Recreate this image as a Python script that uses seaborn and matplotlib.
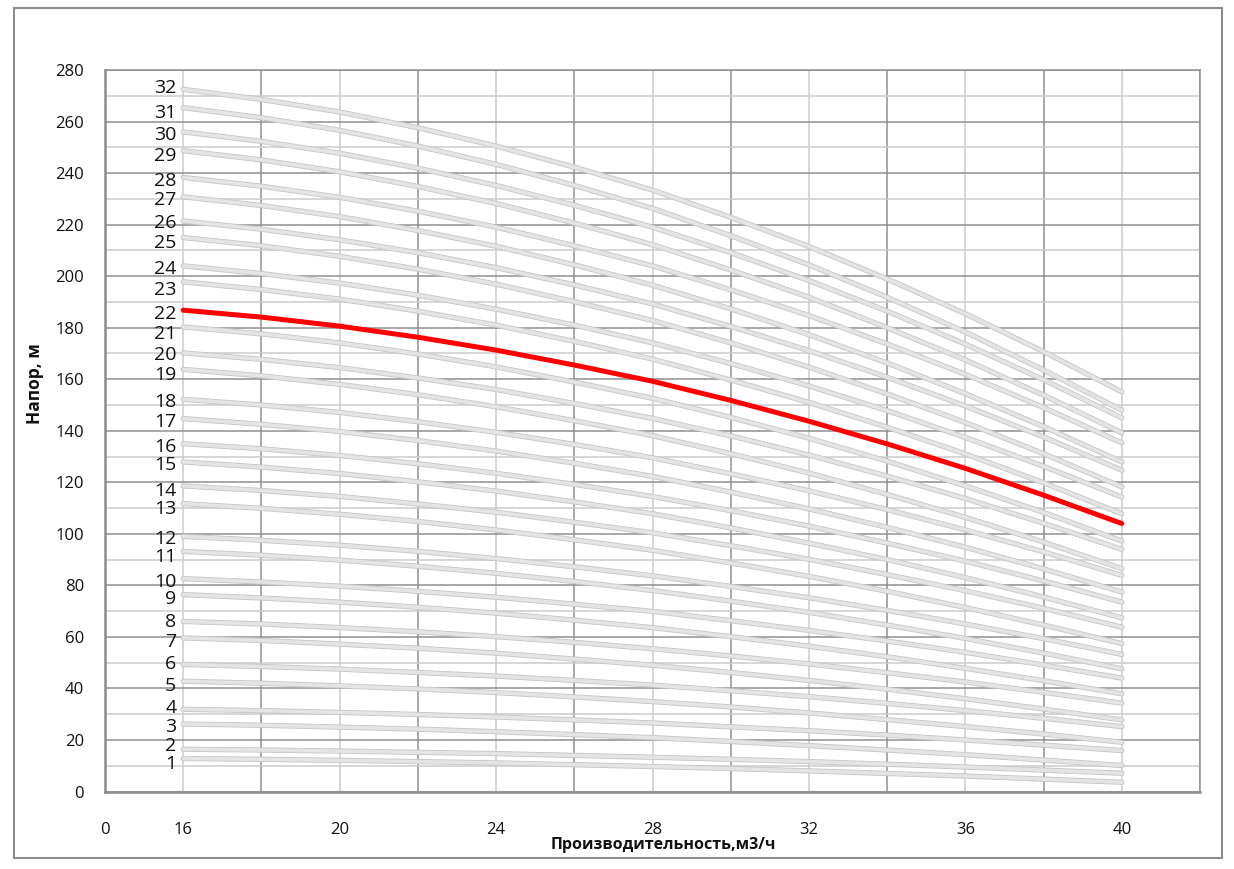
import pandas as pd
import matplotlib
matplotlib.use("Agg")
import matplotlib.pyplot as plt
import matplotlib.patheffects as pe
from matplotlib.patches import Rectangle
from matplotlib.ticker import FixedLocator, FixedFormatter, MultipleLocator
import seaborn as sns

# -----------------------------
# Data
# -----------------------------
flow = [16, 18, 20, 22, 24, 26, 28, 30, 32, 34, 36, 38, 40]

st1 = [12.8, 12.5, 12.1, 11.6, 11.1, 10.4, 9.7, 8.9, 8.0, 7.0, 6.0, 4.8, 3.6]
st2 = [16.4, 16.1, 15.7, 15.2, 14.7, 14.0, 13.3, 12.5, 11.6, 10.6, 9.5, 8.3, 7.1]
st3 = [26.2, 25.7, 25.0, 24.2, 23.2, 22.1, 20.9, 19.4, 17.8, 16.1, 14.3, 12.2, 10.1]
st4 = [31.9, 31.4, 30.7, 29.9, 28.9, 27.8, 26.6, 25.1, 23.6, 21.9, 20.0, 18.0, 15.9]
st5 = [42.8, 42.0, 41.0, 39.8, 38.4, 36.7, 34.9, 32.8, 30.5, 27.9, 25.2, 22.3, 19.1]
st6 = [49.3, 48.5, 47.5, 46.2, 44.8, 43.1, 41.3, 39.1, 36.8, 34.2, 31.4, 28.4, 25.2]
st7 = [59.6, 58.6, 57.2, 55.6, 53.7, 51.4, 49.0, 46.2, 43.1, 39.7, 36.0, 32.0, 27.8]
st8 = [66.0, 65.0, 63.6, 62.0, 60.1, 57.9, 55.4, 52.6, 49.5, 46.1, 42.5, 38.5, 34.3]
st9 = [76.4, 75.1, 73.5, 71.5, 69.2, 66.5, 63.6, 60.1, 56.4, 52.3, 47.8, 43.0, 37.9]
st10 = [82.6, 81.3, 79.7, 77.7, 75.4, 72.7, 69.9, 66.3, 62.5, 58.4, 54.0, 49.1, 44.0]
st11 = [93.2, 91.7, 89.8, 87.4, 84.7, 81.5, 78.0, 73.9, 69.5, 64.6, 59.4, 53.7, 47.6]
st12 = [99.0, 97.5, 95.6, 93.2, 90.4, 87.2, 83.7, 79.6, 75.2, 70.3, 65.0, 59.3, 53.2]
st13 = [111.7, 109.9, 107.6, 104.8, 101.5, 97.7, 93.6, 88.7, 83.5, 77.7, 71.4, 64.6, 57.4]
st14 = [118.6, 116.8, 114.5, 111.6, 108.4, 104.5, 100.4, 95.4, 90.1, 84.2, 77.9, 71.1, 63.8]
st15 = [127.9, 125.9, 123.4, 120.2, 116.6, 112.4, 107.8, 102.3, 96.4, 90.0, 83.0, 75.5, 67.4]
st16 = [135.0, 133.0, 130.4, 127.2, 123.5, 119.2, 114.5, 109.0, 103.0, 96.4, 89.4, 81.7, 73.5]
st17 = [144.7, 142.5, 139.7, 136.2, 132.1, 127.4, 122.3, 116.2, 109.7, 102.5, 94.8, 86.4, 77.4]
st18 = [152.2, 150.0, 147.1, 143.5, 139.4, 134.7, 129.5, 123.3, 116.7, 109.4, 101.5, 93.0, 83.9]
st19 = [163.8, 161.3, 158.0, 154.0, 149.3, 143.9, 138.1, 131.1, 123.6, 115.3, 106.4, 96.8, 86.5]
st20 = [170.2, 167.7, 164.5, 160.5, 156.0, 150.6, 144.8, 138.0, 130.6, 122.4, 113.7, 104.1, 94.0]
st21 = [180.3, 177.6, 174.1, 169.8, 164.8, 158.9, 152.6, 145.2, 137.1, 128.2, 118.6, 108.3, 97.2]
st22 = [186.8, 184.1, 180.6, 176.3, 171.3, 165.5, 159.2, 151.8, 143.7, 134.9, 125.4, 115.0, 104.0]
st23 = [197.8, 194.8, 191.1, 186.4, 181.0, 174.7, 167.8, 159.7, 151.0, 141.4, 131.0, 119.8, 107.8]
st24 = [204.0, 201.0, 197.3, 192.6, 187.2, 181.0, 174.1, 166.1, 157.4, 147.8, 137.4, 126.2, 114.3]
st25 = [215.0, 211.8, 207.7, 202.7, 196.9, 190.1, 182.8, 174.1, 164.7, 154.3, 143.2, 131.1, 118.2]
st26 = [221.4, 218.2, 214.1, 209.1, 203.3, 196.6, 189.2, 180.5, 171.1, 160.8, 149.6, 137.6, 124.7]
st27 = [230.8, 227.4, 223.1, 217.7, 211.6, 204.4, 196.5, 187.3, 177.3, 166.3, 154.4, 141.6, 127.9]
st28 = [238.3, 234.9, 230.6, 225.2, 219.0, 211.8, 204.0, 194.7, 184.7, 173.7, 161.9, 149.0, 135.3]
st29 = [248.7, 245.1, 240.5, 234.8, 228.2, 220.6, 212.2, 202.4, 191.8, 180.0, 167.5, 153.8, 139.2]
st30 = [256.0, 252.3, 247.7, 241.9, 235.2, 227.5, 219.0, 209.1, 198.3, 186.4, 173.6, 159.8, 145.0]
st31 = [265.4, 261.5, 256.6, 250.5, 243.4, 235.2, 226.3, 215.7, 204.4, 191.8, 178.3, 163.6, 148.0]
st32 = [272.5, 268.6, 263.7, 257.6, 250.5, 242.3, 233.4, 222.8, 211.5, 198.9, 185.4, 170.7, 155.1]

curves = [st1, st2, st3, st4, st5, st6, st7, st8, st9, st10, st11, st12,
          st13, st14, st15, st16, st17, st18, st19, st20, st21, st22, st23,
          st24, st25, st26, st27, st28, st29, st30, st31, st32]
stage_labels = [str(i) for i in range(1, 33)]
highlight = "22"

x_tick_pos = [16, 20, 24, 28, 32, 36, 40]
x_tick_labels = ["16", "20", "24", "28", "32", "36", "40"]
y_ticks = list(range(0, 281, 20))

# long table for seaborn
rows = []
for lab, vals in zip(stage_labels, curves):
    for q, h in zip(flow, vals):
        rows.append((lab, q, h))
df = pd.DataFrame(rows, columns=["stage", "Q", "H"])

# -----------------------------
# Plot
# -----------------------------
sns.set_style("white")
plt.rcParams["font.family"] = ["Open Sans", "DejaVu Sans"]

fig = plt.figure(figsize=(12.34, 8.69), dpi=100)
ax = fig.add_axes([105 / 1234, 1 - 791.5 / 869, 1095 / 1234, 721.5 / 869])

gray_df = df[df["stage"] != highlight]
sns.lineplot(data=gray_df, x="Q", y="H", units="stage", estimator=None,
             color="#e4e4e4", linewidth=2.6, ax=ax, zorder=3)
for ln in ax.lines:
    ln.set_solid_capstyle("round")
    ln.set_solid_joinstyle("round")
    ln.set_path_effects([pe.Stroke(linewidth=3.8, foreground="#c6c6c6"), pe.Normal()])

sns.lineplot(data=df[df["stage"] == highlight], x="Q", y="H",
             color="#ff0000", linewidth=3.6, ax=ax, zorder=4)
ax.lines[-1].set_solid_capstyle("round")
ax.lines[-1].set_solid_joinstyle("round")

# curve number labels at the left end (small vertical nudges, px, + = down)
label_nudge = {"32": -3, "31": 3, "30": 1, "29": 3, "28": 2, "27": 1, "26": 0,
               "25": 4, "24": 1, "23": 6, "22": 2, "21": 5, "20": 0, "19": 4,
               "18": 1, "17": 1, "16": 1, "15": 1, "14": 3, "13": 3, "12": 1,
               "11": 4, "10": 1, "9": 2, "8": -1, "7": 2, "6": -2, "5": 3,
               "4": -3, "3": 1, "2": -5, "1": 3}
for lab, vals in zip(stage_labels, curves):
    dy_px = label_nudge.get(lab, 0) + 2
    ax.annotate(lab, (flow[0], vals[0]), xytext=(-5, -dy_px * 0.72),
                textcoords="offset points", ha="right", va="center",
                fontsize=14, color="#111111", zorder=5)

ax.set_xlim(14, 42)
ax.set_ylim(0, 280)

ax.xaxis.set_major_locator(FixedLocator(list(range(14, 43, 4))))
ax.xaxis.set_major_formatter(FixedFormatter(["0"] + [""] * 7))
ax.xaxis.set_minor_locator(FixedLocator(x_tick_pos))
ax.xaxis.set_minor_formatter(FixedFormatter(x_tick_labels))
ax.yaxis.set_major_locator(FixedLocator(y_ticks))
ax.yaxis.set_minor_locator(MultipleLocator(10))

ax.tick_params(axis="x", which="major", length=7, width=1.2, color="#8c8c8c",
               direction="out", pad=15, labelsize=12, labelcolor="#111111")
ax.tick_params(axis="x", which="minor", length=0, pad=22, labelsize=12,
               labelcolor="#111111")
ax.tick_params(axis="y", which="major", length=5, width=1.2, color="#8c8c8c",
               direction="out", pad=10, labelsize=12, labelcolor="#111111")
ax.tick_params(axis="y", which="minor", length=0)

ax.grid(which="major", color="#8f8f8f", linewidth=1.1)
ax.grid(which="minor", color="#cccccc", linewidth=1.1)
ax.set_axisbelow(True)

for side in ["left", "bottom"]:
    ax.spines[side].set_color("#8c8c8c")
    ax.spines[side].set_linewidth(1.8)
for side in ["top", "right"]:
    ax.spines[side].set_color("#8f8f8f")
    ax.spines[side].set_linewidth(1.1)

ax.set_xlabel("")
ax.set_ylabel("")
fig.text(663 / 1234, 1 - 845 / 869, "Производительность,м3/ч", ha="center",
         va="center", fontsize=11.5, fontweight="bold", color="#111111")
fig.text(35 / 1234, 1 - 384 / 869, "Напор, м", ha="center", va="center",
         rotation=90, fontsize=12.5, fontweight="bold", color="#111111")

# chart area border
fig.patches.append(Rectangle((14 / 1234, 1 - 858 / 869), 1208 / 1234, 850 / 869,
                             transform=fig.transFigure, fill=False,
                             edgecolor="#8c8c8c", linewidth=1.5))

fig.savefig("out.png", dpi=100)
